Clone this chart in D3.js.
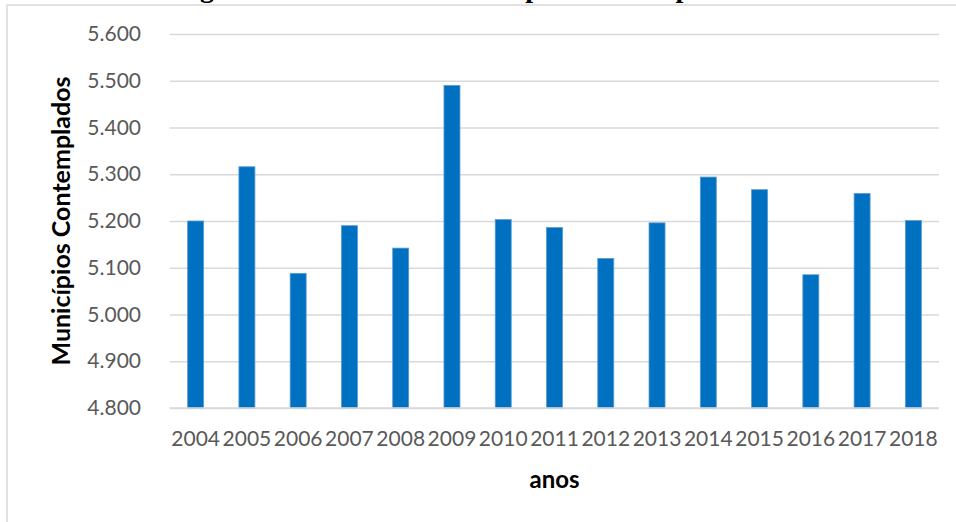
<!DOCTYPE html>
<html>
<head>
<meta charset="utf-8">
<script src="https://cdn.jsdelivr.net/npm/d3@7"></script>
<style>
  html, body { margin: 0; padding: 0; background: #fff; }
  svg { display: block; }
</style>
</head>
<body>
<svg id="chart" width="956" height="522"></svg>
<script>
const years = ["2004","2005","2006","2007","2008","2009","2010","2011","2012","2013","2014","2015","2016","2017","2018"];
const municipios = [5200, 5316, 5088, 5190, 5142, 5490, 5203, 5186, 5120, 5196, 5294, 5267, 5085, 5259, 5201];
const yTicks = [4800, 4900, 5000, 5100, 5200, 5300, 5400, 5500, 5600];
const titleText = "Figura 1 - Número de Municípios Contemplados";
const yTitle = "Municípios Contemplados";
const xTitle = "anos";

const svg = d3.select("#chart");
const W = 956, H = 522;
const plot = { left: 170, right: 939, top: 34, bottom: 408 };

const locale = d3.formatLocale({ decimal: ",", thousands: ".", grouping: [3], currency: ["R$", ""] });
const fmt = locale.format(",.0f");

const x = d3.scaleBand().domain(years).range([plot.left, plot.right])
  .paddingInner(0.688).paddingOuter(0.344);
const y = d3.scaleLinear().domain([4800, 5600]).range([plot.bottom, plot.top]);

// chart frame
svg.append("rect").attr("x", 7).attr("y", 5).attr("width", W + 20).attr("height", H + 20)
  .attr("fill", "#fff").attr("stroke", "#d9d9d9").attr("stroke-width", 1.5);

// title of the figure, cut off by the top edge (only descenders visible)
const title = svg.append("text").attr("y", -3)
  .attr("font-family", "Liberation Serif").attr("font-weight", "bold").attr("font-size", 28)
  .attr("fill", "#000").text(titleText);
const gPos = title.node().getStartPositionOfChar(titleText.indexOf("g")).x;
title.attr("x", 200 - gPos);

// gridlines + y labels
const yAxis = d3.axisLeft(y).tickValues(yTicks).tickFormat(fmt)
  .tickSize(-(plot.right - plot.left)).tickPadding(29);
const gy = svg.append("g").attr("transform", `translate(${plot.left},0)`).call(yAxis);
gy.select(".domain").remove();
gy.selectAll(".tick line").attr("stroke", "#d9d9d9").attr("stroke-width", 1.5);
gy.selectAll(".tick text").attr("fill", "#595959").attr("font-family", "Lato")
  .attr("font-size", 21);

// bars
svg.append("g").selectAll("rect").data(years).join("rect")
  .attr("x", d => x(d))
  .attr("y", (d, i) => y(municipios[i]))
  .attr("width", x.bandwidth())
  .attr("height", (d, i) => plot.bottom - y(municipios[i]))
  .attr("fill", "#0070c0")
  .attr("stroke", "#5b9ad6").attr("stroke-width", 0.8);

// x axis
const xAxis = d3.axisBottom(x).tickSize(0).tickPadding(23);
const gx = svg.append("g").attr("transform", `translate(0,${plot.bottom})`).call(xAxis);
gx.select(".domain").attr("stroke", "#d9d9d9").attr("stroke-width", 1.5)
  .attr("d", `M${plot.left},0H${plot.right}`);
gx.selectAll(".tick text").attr("fill", "#595959").attr("font-family", "Lato")
  .attr("font-size", 21);

// axis titles
svg.append("text").attr("x", (plot.left + plot.right) / 2).attr("y", 488)
  .attr("text-anchor", "middle").attr("font-family", "Lato").attr("font-weight", "bold")
  .attr("font-size", 24).attr("fill", "#000").text(xTitle);

svg.append("text")
  .attr("transform", `translate(70,${(plot.top + plot.bottom) / 2}) rotate(-90)`)
  .attr("text-anchor", "middle").attr("font-family", "Lato").attr("font-weight", "bold")
  .attr("font-size", 25).attr("fill", "#000").text(yTitle);
</script>
</body>
</html>
